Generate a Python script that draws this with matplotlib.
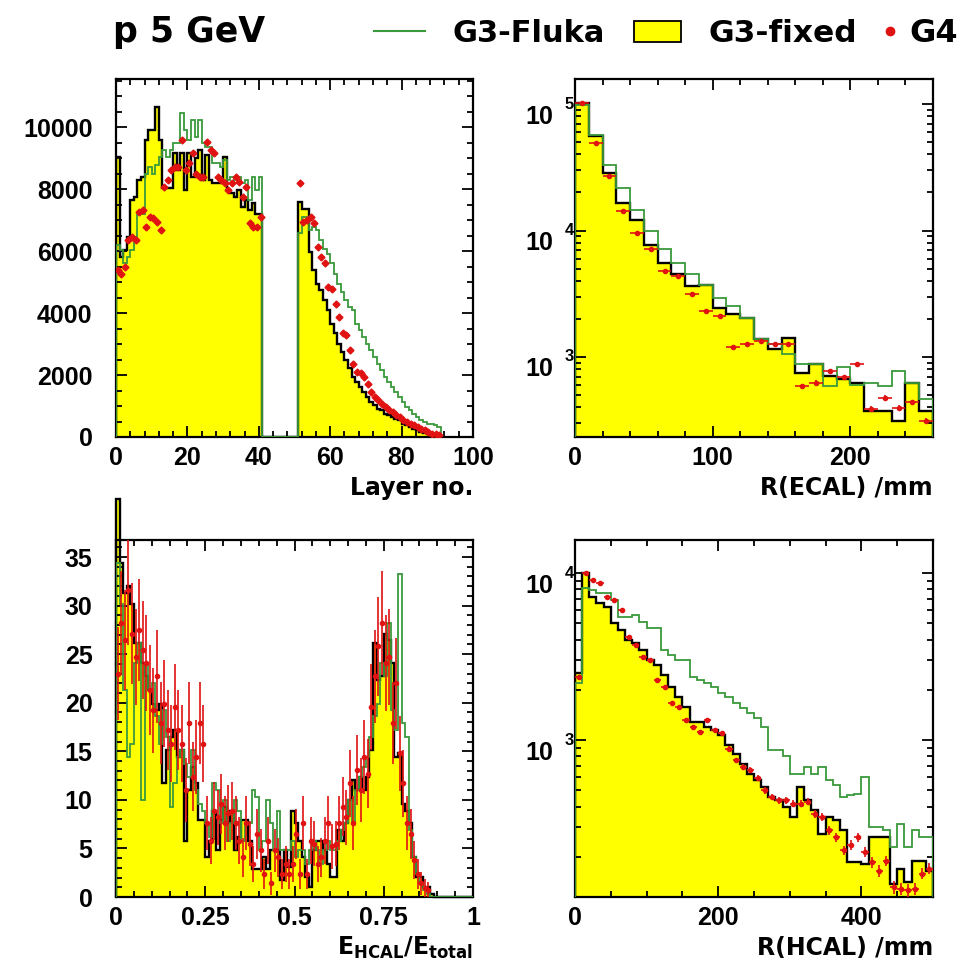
import numpy as np
import matplotlib
matplotlib.use('Agg')
import matplotlib.pyplot as plt
from matplotlib.ticker import MultipleLocator, NullFormatter, FuncFormatter, LogLocator
from matplotlib.patches import Rectangle
from matplotlib.lines import Line2D

plt.rcParams['font.family'] = ['Liberation Sans', 'DejaVu Sans']
plt.rcParams['font.weight'] = 'bold'
plt.rcParams['mathtext.fontset'] = 'dejavusans'

# ---------------- data ----------------
# Top-left: energy per layer (ECAL layers 0-40, HCAL layers 51-90)
layer_ecal_fixed = [9040, 5800, 6030, 6460, 7640, 7750, 8290, 8400, 9580, 9900, 9900, 10650, 9580,
                    8020, 8020, 8020, 9150, 8610, 9150, 7970, 9150, 8400, 8990, 9260, 8290, 9100,
                    8290, 8180, 8180, 8290, 9040, 7970, 7860, 7750, 7970, 7430, 7640, 7320, 7535,
                    7210, 7210]
layer_ecal_fluka = [6200, 6030, 5600, 5810, 6030, 6460, 7210, 7210, 8500, 8720, 8500, 8770, 9040,
                    9260, 9040, 9260, 9470, 9470, 10440, 9900, 9580, 10230, 9690, 10230, 9470, 9365,
                    9365, 8830, 8830, 8720, 8935, 8290, 8400, 8180, 8400, 8180, 8290, 7640, 8400,
                    7970, 8400]
layer_ecal_g4 = [5380, 5270, 5490, 6350, 6460, 6350, 7270, 7320, 6780, 7100, 7050, 6940, 6670,
                 8070, 8290, 8610, 8720, 8720, 9580, 8610, 8830, 9150, 8500, 8400, 8400, 9530,
                 9260, 9150, 8400, 8290, 8180, 7970, 8180, 8400, 8240, 7750, 8070, 6890, 6780,
                 6780, 7100]
layer_hcal_fixed = [7590, 7370, 7370, 5970, 5380, 4950, 4740, 4410, 4090, 3660, 3340, 3010, 2745,
                    2475, 2210, 1940, 1780, 1615, 1450, 1290, 1130, 1020, 915, 860, 750, 700, 645,
                    590, 540, 430, 377, 320, 270, 215, 160, 130, 110, 75, 50, 30]
layer_hcal_fluka = [6570, 7100, 7100, 6670, 6780, 6670, 6350, 6080, 5920, 5600, 5270, 4950, 4680,
                    4410, 4200, 4090, 3660, 3440, 3230, 3010, 2800, 2580, 2370, 2150, 1940, 1780,
                    1615, 1450, 1290, 1130, 970, 860, 750, 645, 540, 485, 430, 430, 380, 320]
layer_hcal_g4 = [8180, 6940, 7000, 7100, 6890, 6130, 5810, 5600, 4840, 4790, 4300, 3875, 3340,
                 3290, 2800, 2370, 2100, 2050, 1940, 1720, 1450, 1290, 1185, 1075, 970, 860, 805,
                 700, 645, 540, 485, 430, 377, 320, 270, 215, 160, 110, 85, 50]
n_gap_layers = 10

# Top-right: R(ECAL) /mm, 10 mm bins 0-260
recal_fixed = [101800, 55600, 28500, 16500, 12200, 7750, 5560, 4520, 3640, 3700, 2450, 2170, 2050,
               1380, 1150, 1420, 743, 875, 708, 667, 627, 375, 375, 312, 627, 375]
recal_fluka = [98800, 57300, 33200, 21700, 14600, 9930, 7090, 5560, 4520, 3740, 2940, 2530, 2050,
               1380, 1260, 1050, 875, 875, 588, 828, 605, 627, 588, 780, 627, 465]
recal_g4 = [101800, 49200, 26800, 14200, 9600, 7080, 4770, 4360, 3120, 2310, 2110, 1190, 1260,
            1340, 1260, 1260, 588, 627, 780, 700, 875, 390, 478, 398, 437, 312]

# Bottom-right: R(HCAL) /mm, 10 mm bins 0-500
rhcal_fixed = [2510, 10000, 7240, 6610, 6310, 5010, 4570, 3980, 3800, 3470, 3020, 2820, 2450, 2090,
               1820, 1580, 1290, 1290, 1200, 1150, 1070, 930, 830, 724, 631, 575, 525, 457, 437,
               398, 347, 525, 437, 380, 275, 347, 331, 288, 186, 186, 182, 263, 263, 263, 138,
               170, 141, 190, 190, 165]
rhcal_fluka = [2190, 8130, 7940, 7590, 7590, 6920, 5500, 5500, 5620, 5130, 4680, 4680, 3470, 3240,
               3020, 3020, 2400, 2290, 2190, 2090, 1910, 1820, 1660, 1550, 1450, 1350, 1200, 870,
               870, 800, 631, 631, 692, 631, 692, 575, 540, 457, 468, 479, 603, 302, 302, 288,
               229, 316, 229, 288, 263, 263]
rhcal_g4 = [2400, 10000, 9120, 8710, 7240, 6920, 6030, 4170, 3720, 3160, 3020, 2290, 2090, 1660,
            1580, 1320, 1200, 1120, 1320, 1150, 1100, 890, 758, 692, 661, 590, 501, 457, 437, 437,
            417, 417, 427, 363, 347, 288, 263, 219, 236, 263, 214, 186, 165, 190, 132, 129, 126,
            129, 159, 170]

# Bottom-left: E_HCAL/E_total, 0.01 bins 0-1 (100 bins)
frac_fixed = [41.0, 34.4, 31.3, 32.0, 30.2, 26.1, 26.1, 24.1, 22.7, 21.3,
              19.9, 19.2, 19.9, 11.7, 15.1, 16.5, 17.2, 14.4, 15.1, 5.8,
              11.0, 13.4, 11.7, 7.9, 7.9, 4.1, 5.8, 8.9, 4.8, 7.9,
              9.3, 7.6, 8.9, 4.8, 6.2, 7.9, 7.9, 5.8, 2.9, 2.9,
              2.9, 4.1, 2.9, 4.8, 4.8, 4.8, 1.7, 4.8, 3.1, 8.9,
              7.6, 5.8, 4.1, 2.1, 1.0, 4.8, 5.8, 5.8, 4.8, 3.4,
              2.1, 2.1, 6.9, 5.8, 7.6, 10.0, 12.0, 11.0, 12.4, 11.0,
              12.4, 15.1, 26.1, 22.3, 22.7, 27.1, 26.5, 24.1, 14.4, 14.8,
              9.6, 8.9, 7.6, 4.1, 2.1, 2.1, 1.0, 1.0, 0.3, 0,
              0, 0, 0, 0, 0, 0, 0, 0, 0, 0]
frac_fluka = [34.4, 30.2, 21.3, 14.4, 15.8, 24.1, 26.1, 10.0, 24.1, 21.3,
              22.0, 18.6, 15.8, 19.2, 16.5, 9.3, 11.7, 14.4, 15.1, 13.7,
              12.4, 15.1, 11.0, 9.6, 8.9, 7.6, 6.2, 11.7, 11.0, 7.6,
              10.0, 5.8, 7.6, 10.0, 8.9, 5.8, 7.6, 7.6, 11.0, 10.3,
              4.8, 5.8, 10.0, 7.6, 4.8, 8.9, 4.8, 4.8, 4.8, 5.8,
              4.1, 4.8, 4.8, 3.4, 4.8, 5.8, 4.8, 3.4, 4.8, 5.8,
              4.8, 4.8, 5.8, 6.9, 7.6, 10.0, 7.6, 11.0, 12.4, 13.4,
              14.4, 16.5, 18.6, 19.9, 24.1, 22.7, 28.2, 19.2, 17.2, 33.2,
              17.9, 16.5, 6.9, 4.1, 2.4, 1.4, 0.7, 0.3, 0, 0,
              0, 0, 0, 0, 0, 0, 0, 0, 0, 0]
frac_g4 = [23.0, 28.2, 26.5, 31.6, 27.1, 24.7, 27.5, 25.4, 24.1, 21.3,
           19.2, 22.7, 17.9, 19.9, 17.2, 15.8, 19.6, 17.2, 15.8, 11.0,
           17.9, 12.4, 14.4, 17.9, 15.8, 7.6, 5.8, 8.9, 8.2, 9.6,
           7.6, 8.6, 8.9, 7.6, 5.8, 4.1, 7.6, 5.5, 3.4, 6.5,
           4.8, 2.4, 5.8, 1.4, 4.8, 4.1, 2.4, 3.4, 2.4, 3.4,
           6.5, 2.4, 7.6, 2.4, 5.8, 5.5, 3.4, 4.1, 5.8, 7.6,
           5.2, 5.5, 7.6, 9.3, 8.2, 11.7, 7.6, 13.1, 11.0, 14.4,
           12.7, 19.6, 22.7, 25.8, 28.2, 24.1, 24.7, 17.9, 22.0, 14.8,
           11.7, 7.6, 6.5, 3.8, 2.4, 1.4, 0.9, 0.7, 0, 0,
           0, 0, 0, 0, 0, 0, 0, 0, 0, 0]

# ---------------- style ----------------
YELLOW = '#ffff00'
GREEN = '#3a9a3a'
RED = '#e01212'
W, H = 974, 971
LABEL_FONT = dict(family='DejaVu Sans', weight='bold', fontsize=17)

fig = plt.figure(figsize=(W / 100, H / 100), dpi=100)


def px_axes(x0, y0, x1, y1):
    return fig.add_axes([x0 / W, 1 - y1 / H, (x1 - x0) / W, (y1 - y0) / H])


def style(ax, xmaj, xmin, ymaj=None, ymin=None, ypad=17):
    for s in ax.spines.values():
        s.set_linewidth(1.6)
    ax.tick_params(which='both', direction='in', top=True, right=True, width=1.3,
                   labelsize=18)
    ax.tick_params(axis='x', which='major', pad=6.5)
    ax.tick_params(axis='y', which='major', pad=ypad)
    ax.tick_params(which='major', length=8)
    ax.tick_params(which='minor', length=4.5)
    ax.xaxis.set_major_locator(MultipleLocator(xmaj))
    ax.xaxis.set_minor_locator(MultipleLocator(xmin))
    ax.xaxis.set_major_formatter(FuncFormatter(lambda v, p: '%g' % v))
    if ymaj is not None:
        ax.yaxis.set_major_locator(MultipleLocator(ymaj))
        ax.yaxis.set_minor_locator(MultipleLocator(ymin))
        ax.yaxis.set_major_formatter(FuncFormatter(lambda v, p: '%g' % v))


def log_labels(ax, exps):
    ax.yaxis.set_major_formatter(NullFormatter())
    ax.yaxis.set_minor_formatter(NullFormatter())
    ax.yaxis.set_major_locator(LogLocator(base=10))
    ax.yaxis.set_minor_locator(LogLocator(base=10, subs=np.arange(2, 10)))
    tr = ax.get_yaxis_transform()
    for e in exps:
        ax.annotate('10', xy=(0, 10.0 ** e), xycoords=tr, xytext=(-15.8, -9),
                    textcoords='offset points', ha='right', va='center', fontsize=18,
                    weight='bold', annotation_clip=False)
        ax.annotate(str(e), xy=(0, 10.0 ** e), xycoords=tr, xytext=(-7.4, 0),
                    textcoords='offset points', ha='left', va='center', fontsize=12,
                    weight='bold', annotation_clip=False)


def draw_hist(ax, edges, fixed, fluka, g4, baseline=0, clip=True, yerr=True, xerr=None,
              ms=3.5, marker='o'):
    fixed = np.asarray(fixed, float)
    fluka = np.asarray(fluka, float)
    g4 = np.asarray(g4, float)
    ax.stairs(fixed, edges, baseline=baseline, fill=True, color=YELLOW, lw=0, zorder=1,
              clip_on=clip)
    ax.stairs(fixed, edges, baseline=baseline, color='black', lw=1.7, zorder=2, clip_on=clip)
    ax.stairs(fluka, edges, baseline=baseline, color=GREEN, lw=1.3, zorder=3)
    centers = 0.5 * (edges[:-1] + edges[1:])
    m = g4 > 0
    err = np.sqrt(g4[m]) if yerr else None
    ax.errorbar(centers[m], g4[m], yerr=err, xerr=xerr, fmt=marker, ms=ms, color=RED,
                ecolor=RED, elinewidth=1.2, capsize=0, zorder=4)


# ---------------- top-left ----------------
ax = px_axes(116, 79, 473, 437)
tl_fixed = np.concatenate([layer_ecal_fixed, np.zeros(n_gap_layers), layer_hcal_fixed])
tl_fluka = np.concatenate([layer_ecal_fluka, np.zeros(n_gap_layers), layer_hcal_fluka])
tl_g4 = np.concatenate([layer_ecal_g4, np.zeros(n_gap_layers), layer_hcal_g4])
edges = np.arange(len(tl_fixed) + 1, dtype=float)
draw_hist(ax, edges, tl_fixed, tl_fluka, tl_g4, yerr=False, ms=3.5, marker='D')
ax.set_xlim(0, 100)
ax.set_ylim(0, 11550)
style(ax, 20, 4, 2000, 500)
ax.text(1.0, -0.162, 'Layer no.', transform=ax.transAxes, ha='right', va='baseline',
        **LABEL_FONT)

# ---------------- top-right ----------------
ax = px_axes(575, 79, 933, 437)
edges = np.arange(len(recal_fixed) + 1) * 10.0
draw_hist(ax, edges, recal_fixed, recal_fluka, recal_g4, baseline=1, xerr=5, ms=3)
ax.set_yscale('log')
ax.set_xlim(0, 260)
ax.set_ylim(233, 157700)
style(ax, 100, 20)
log_labels(ax, [3, 4, 5])
ax.text(1.0, -0.162, 'R(ECAL) /mm', transform=ax.transAxes, ha='right', va='baseline',
        **LABEL_FONT)

# ---------------- bottom-left ----------------
ax = px_axes(116, 540, 473, 897)
edges = np.arange(len(frac_fixed) + 1) * 0.01
draw_hist(ax, edges, frac_fixed, frac_fluka, frac_g4, clip=False, xerr=0.005, ms=3)
ax.set_xlim(0, 1)
ax.set_ylim(0, 36.75)
style(ax, 0.25, 0.05, 5, 1)
ax.text(1.0, -0.162, r'E$_{\mathrm{HCAL}}$/E$_{\mathrm{total}}$', transform=ax.transAxes,
        ha='right', va='baseline', **LABEL_FONT)

# ---------------- bottom-right ----------------
ax = px_axes(575, 540, 933, 897)
edges = np.arange(len(rhcal_fixed) + 1) * 10.0
draw_hist(ax, edges, rhcal_fixed, rhcal_fluka, rhcal_g4, baseline=1, xerr=5, ms=3)
ax.set_yscale('log')
ax.set_xlim(0, 500)
ax.set_ylim(115, 15800)
style(ax, 200, 50)
log_labels(ax, [3, 4])
ax.text(1.0, -0.162, 'R(HCAL) /mm', transform=ax.transAxes, ha='right', va='baseline',
        **LABEL_FONT)

# ---------------- title & legend ----------------
TF = dict(family='DejaVu Sans', weight='bold', va='baseline')
fig.text(113 / W, 1 - 42 / H, 'p 5 GeV', fontsize=25, **TF)
fig.add_artist(Line2D([374 / W, 425 / W], [1 - 31 / H] * 2, transform=fig.transFigure,
                      color=GREEN, lw=1.5))
fig.text(453 / W, 1 - 42 / H, 'G3-Fluka', fontsize=22, **TF)
fig.add_artist(Rectangle((634 / W, 1 - 42 / H), 47 / W, 21 / H, transform=fig.transFigure,
                         facecolor=YELLOW, edgecolor='black', lw=1.3))
fig.text(709 / W, 1 - 42 / H, 'G3-fixed', fontsize=22.5, **TF)
fig.add_artist(Line2D([890 / W], [1 - 31 / H], transform=fig.transFigure, marker='o',
                      ms=6, color=RED, lw=0))
fig.text(909 / W, 1 - 42 / H, 'G4', fontsize=23, **TF)

fig.savefig('out.png', dpi=100)
